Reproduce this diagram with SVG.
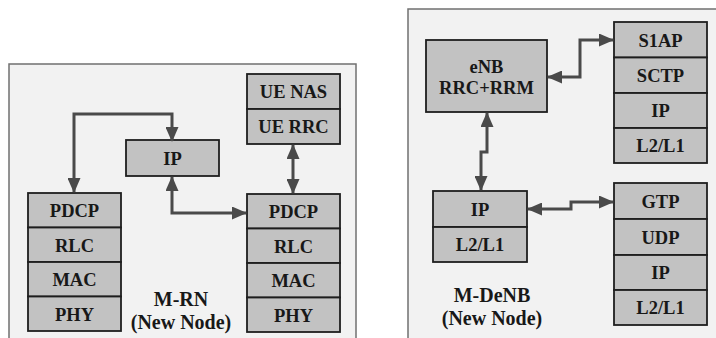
<svg xmlns="http://www.w3.org/2000/svg" width="716" height="338" viewBox="0 0 716 338">
<style>
.panel{fill:#f2f2f2;stroke:#707070;stroke-width:1.5}
.box{fill:#c2c2c2;stroke:#1e1e1e;stroke-width:1.8}
.t{font-family:"Liberation Serif","Times New Roman",serif;font-weight:bold;font-size:18.5px;fill:#181818;text-anchor:middle}
.lbl{font-family:"Liberation Serif","Times New Roman",serif;font-weight:bold;font-size:20px;fill:#181818;text-anchor:middle}
.c{fill:none;stroke:#4a4a4a;stroke-width:3;marker-start:url(#ah);marker-end:url(#ah)}
</style>
<defs>
<marker id="ah" markerUnits="userSpaceOnUse" viewBox="0 0 15 13" refX="14" refY="6.5" markerWidth="15" markerHeight="13" orient="auto-start-reverse">
<path d="M0,0 L15,6.5 L0,13 z" fill="#4a4a4a"/>
</marker>
</defs>
<rect class="panel" x="9" y="64" width="347" height="290"/>
<rect class="panel" x="408" y="9" width="320" height="340"/>
<g id="mrn-left-stack">
<rect class="box" x="28" y="193" width="93" height="34.5"/><text class="t" x="74.5" y="217">PDCP</text>
<rect class="box" x="28" y="227.5" width="93" height="34.5"/><text class="t" x="74.5" y="251.5">RLC</text>
<rect class="box" x="28" y="262" width="93" height="34.5"/><text class="t" x="74.5" y="286">MAC</text>
<rect class="box" x="28" y="296.5" width="93" height="34.5"/><text class="t" x="74.5" y="320.5">PHY</text>
</g>
<g id="mrn-ip">
<rect class="box" x="126" y="140" width="93" height="36"/><text class="t" x="172.5" y="164.5">IP</text>
</g>
<g id="mrn-ue">
<rect class="box" x="247" y="74" width="93" height="35"/><text class="t" x="293.5" y="98">UE NAS</text>
<rect class="box" x="247" y="109" width="93" height="35"/><text class="t" x="293.5" y="133">UE RRC</text>
</g>
<g id="mrn-right-stack">
<rect class="box" x="247" y="194" width="93" height="34.5"/><text class="t" x="293.5" y="218">PDCP</text>
<rect class="box" x="247" y="228.5" width="93" height="34.5"/><text class="t" x="293.5" y="252.5">RLC</text>
<rect class="box" x="247" y="263" width="93" height="34.5"/><text class="t" x="293.5" y="287">MAC</text>
<rect class="box" x="247" y="297.5" width="93" height="34.5"/><text class="t" x="293.5" y="321.5">PHY</text>
</g>
<g id="mrn-label">
<text class="lbl" x="181" y="306">M-RN</text>
<text class="lbl" x="181" y="329">(New Node)</text>
</g>
<g id="enb">
<rect class="box" x="426" y="40" width="121" height="72"/>
<text class="t" x="486.5" y="72.5">eNB</text>
<text class="t" x="486.5" y="94">RRC+RRM</text>
</g>
<g id="s1ap-stack">
<rect class="box" x="614" y="22" width="93" height="35.5"/><text class="t" x="660.5" y="46.5">S1AP</text>
<rect class="box" x="614" y="57.5" width="93" height="35.5"/><text class="t" x="660.5" y="82">SCTP</text>
<rect class="box" x="614" y="93" width="93" height="35"/><text class="t" x="660.5" y="117">IP</text>
<rect class="box" x="614" y="128" width="93" height="35"/><text class="t" x="660.5" y="152">L2/L1</text>
</g>
<g id="denb-ip">
<rect class="box" x="433" y="191" width="94" height="36"/><text class="t" x="480" y="215.5">IP</text>
<rect class="box" x="433" y="227" width="94" height="35"/><text class="t" x="480" y="251">L2/L1</text>
</g>
<g id="gtp-stack">
<rect class="box" x="614" y="183" width="93" height="36"/><text class="t" x="660.5" y="207.5">GTP</text>
<rect class="box" x="614" y="219" width="93" height="36"/><text class="t" x="660.5" y="243.5">UDP</text>
<rect class="box" x="614" y="255" width="93" height="35"/><text class="t" x="660.5" y="279">IP</text>
<rect class="box" x="614" y="290" width="93" height="35"/><text class="t" x="660.5" y="314">L2/L1</text>
</g>
<g id="denb-label">
<text class="lbl" x="492" y="302">M-DeNB</text>
<text class="lbl" x="492" y="325">(New Node)</text>
</g>
<g id="connectors">
<path class="c" d="M172,141 V114 H74 V192"/>
<path class="c" d="M172,177 V213 H246"/>
<path class="c" d="M293,145 V193"/>
<path class="c" d="M548,77 H580 V40 H613"/>
<path class="c" d="M487,113 V152 H481 V190"/>
<path class="c" d="M528,209 H571 V202 H613"/>
</g>
</svg>
